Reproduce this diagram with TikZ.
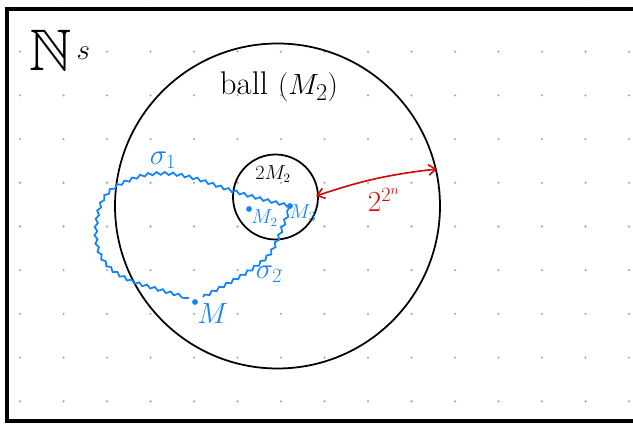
\documentclass[tikz,border=0pt]{standalone}
\usepackage{amsmath, amssymb}
\usepackage{tikz}
\usetikzlibrary{arrows.meta, decorations.pathmorphing}

\definecolor{penblue}{RGB}{20,130,250}
\definecolor{penred}{RGB}{210,10,10}
\definecolor{dotgray}{RGB}{175,175,175}

\tikzset{
    griddot/.style={fill=dotgray, draw=none},
    pen/.style={line width=1.5pt},
    wiggle/.style={penblue, line width=1.5pt, decorate,
        decoration={snake, amplitude=1.2pt, segment length=7pt}},
    mark point/.style={circle, fill=penblue, inner sep=0pt, minimum size=5pt},
    bluelabel/.style={text=penblue, inner sep=1pt},
}

\begin{document}
\begin{tikzpicture}[x=0.03cm, y=-0.03cm, >={Straight Barb[length=6pt, width=9pt]}]
                \useasboundingbox (0,0) rectangle (633,426);
                \fill[white] (0,0) rectangle (633,426);

                % Dotted paper
                \foreach \i in {0,...,14}
                    \foreach \j in {0,...,9}
                        \fill[griddot] (20+43.5*\i, 8+43.7*\j) circle (1.3);

                % Frame
                \draw[line width=2.6pt] (633,9) -- (7,9) -- (7,421) -- (633,421);

                % Space label
                \node (space) at (60,50) {\fontsize{50}{54}\selectfont $\mathbb{N}^{\,\textstyle s}$};

                % Balls
                \coordinate (c) at (277.5,206);
                \coordinate (c2) at (275.5,197);
                \draw[pen] (c) circle (162.5);
                \draw[pen] (c2) circle (42.5);
                \node (ball) at (279,87) {\fontsize{28}{32}\selectfont ball $(M_2)$};
                \node (twoM) at (273,174) {\fontsize{16}{19}\selectfont $2M_2$};

                % Radius
                \coordinate (rin) at (316,196);
                \coordinate (rout) at (437,169);
                \draw[<->, penred, line width=1.4pt] (rin) to[bend left=6] (rout);
                \node[text=penred] (radius) at (384,200) {\fontsize{24}{28}\selectfont $2^{2^n}$};

                % Points
                \node[mark point] (M) at (195,302) {};
                \node[mark point] (M2) at (249,209) {};
                \node[mark point] (M3) at (290,206) {};
                \node[bluelabel, anchor=north west] (Mlab) at (196,302) {\fontsize{28}{32}\selectfont $M$};
                \node[bluelabel, anchor=west] (M2lab) at (250,218) {\fontsize{16}{19}\selectfont $M_2$};
                \node[bluelabel, anchor=west] (M3lab) at (288,213) {\fontsize{18}{21}\selectfont $M_3$};

                % Paths
                \draw[wiggle] (M3.center) .. controls (265,200) and (240,194) .. (210,183)
                    .. controls (190,176) and (160,168) .. (133,180)
                    .. controls (112,188) and (100,196) .. (98,230)
                    .. controls (97,258) and (110,272) .. (137,283)
                    .. controls (160,290) and (175,294) .. (189,298);
                \draw[wiggle] (203,297) .. controls (225,285) and (255,270) .. (268,255)
                    .. controls (278,240) and (282,222) .. (M3.center);
                \node[bluelabel] (sigma1) at (163,160) {\fontsize{24}{28}\selectfont $\sigma_1$};
                \node[bluelabel] (sigma2) at (269,274) {\fontsize{24}{28}\selectfont $\sigma_2$};
            \end{tikzpicture}
\end{document}
